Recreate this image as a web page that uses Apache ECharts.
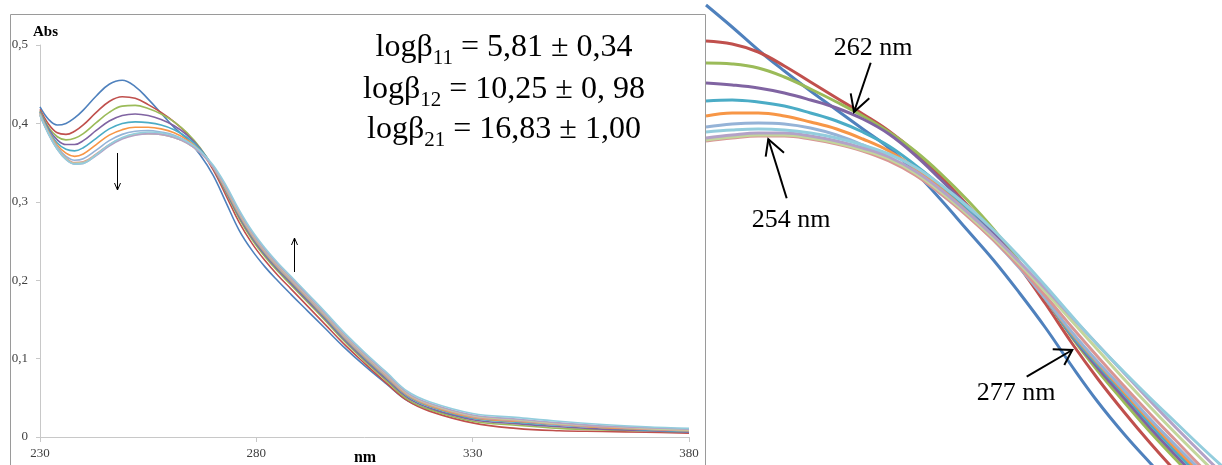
<!DOCTYPE html>
<html><head><meta charset="utf-8">
<script src="https://cdn.jsdelivr.net/npm/echarts@6/dist/echarts.min.js"></script>
<style>html,body{margin:0;padding:0;background:#fff}#c{width:1222px;height:465px}</style>
</head><body><div id="c"></div>
<script>
// ---- Left panel: full spectra (nm, Abs) ----
const wavelengths = [230,232,234,236,238,240,243,246,249,252,255,258,261,264,267,270,273,276,279,282,285,288,292,296,300,305,310,315,320,330,340,350,360,370,380];
const spec1  = [0.421,0.405,0.398,0.400,0.407,0.417,0.435,0.450,0.455,0.447,0.431,0.413,0.395,0.380,0.360,0.334,0.299,0.264,0.238,0.217,0.199,0.182,0.160,0.138,0.116,0.091,0.068,0.046,0.035,0.024,0.021,0.017,0.013,0.010,0.008];
const spec2  = [0.418,0.399,0.388,0.386,0.390,0.398,0.414,0.428,0.434,0.432,0.424,0.414,0.402,0.387,0.367,0.341,0.308,0.274,0.247,0.225,0.206,0.189,0.166,0.143,0.120,0.094,0.069,0.046,0.033,0.018,0.011,0.008,0.007,0.006,0.005];
const spec3  = [0.416,0.395,0.383,0.379,0.381,0.387,0.401,0.414,0.422,0.423,0.419,0.412,0.402,0.388,0.369,0.344,0.312,0.279,0.252,0.230,0.211,0.194,0.171,0.148,0.124,0.097,0.072,0.048,0.035,0.020,0.015,0.011,0.009,0.008,0.006];
const spec4  = [0.415,0.393,0.379,0.373,0.373,0.378,0.391,0.403,0.410,0.412,0.410,0.405,0.397,0.385,0.368,0.344,0.313,0.281,0.254,0.232,0.213,0.196,0.173,0.150,0.126,0.099,0.074,0.050,0.037,0.022,0.017,0.013,0.010,0.008,0.006];
const spec5  = [0.414,0.391,0.375,0.367,0.365,0.369,0.381,0.393,0.400,0.402,0.401,0.398,0.392,0.382,0.367,0.344,0.314,0.283,0.256,0.234,0.215,0.198,0.175,0.152,0.128,0.101,0.076,0.052,0.039,0.024,0.019,0.015,0.012,0.009,0.007];
const spec6  = [0.413,0.389,0.372,0.362,0.358,0.361,0.373,0.385,0.392,0.395,0.395,0.393,0.388,0.379,0.365,0.344,0.315,0.284,0.257,0.235,0.216,0.199,0.176,0.153,0.129,0.102,0.077,0.053,0.040,0.025,0.020,0.016,0.012,0.010,0.008];
const spec7  = [0.412,0.388,0.370,0.358,0.353,0.355,0.366,0.378,0.386,0.390,0.391,0.389,0.385,0.377,0.364,0.344,0.316,0.285,0.258,0.236,0.217,0.200,0.177,0.154,0.130,0.103,0.078,0.054,0.041,0.026,0.021,0.016,0.013,0.011,0.009];
const spec8  = [0.411,0.387,0.368,0.356,0.350,0.351,0.361,0.373,0.381,0.386,0.387,0.386,0.382,0.375,0.363,0.344,0.317,0.286,0.259,0.237,0.218,0.201,0.178,0.155,0.131,0.104,0.079,0.054,0.041,0.026,0.021,0.016,0.013,0.010,0.008];
const spec9  = [0.411,0.387,0.368,0.355,0.349,0.350,0.360,0.372,0.381,0.386,0.387,0.386,0.382,0.375,0.363,0.345,0.318,0.287,0.260,0.238,0.219,0.202,0.179,0.156,0.132,0.105,0.080,0.055,0.042,0.027,0.022,0.017,0.014,0.011,0.009];
const spec10 = [0.410,0.386,0.367,0.354,0.348,0.349,0.359,0.371,0.380,0.385,0.387,0.386,0.382,0.375,0.363,0.345,0.319,0.288,0.261,0.239,0.220,0.203,0.180,0.157,0.133,0.106,0.081,0.056,0.043,0.028,0.023,0.018,0.014,0.012,0.010];
const spec11 = [0.410,0.386,0.367,0.354,0.348,0.349,0.360,0.373,0.382,0.387,0.389,0.388,0.384,0.377,0.365,0.347,0.321,0.290,0.263,0.241,0.222,0.205,0.182,0.159,0.135,0.108,0.083,0.058,0.045,0.030,0.025,0.020,0.016,0.013,0.011];

// ---- Right panel: enlarged view of 249-289 nm ----
const zoomWavelengths = [249,251,253,255,257,259,261,263,265,267,269,271,273,275,277,279,281,283,285,287,289];
const zoom1  = [0.4555,0.4445,0.433,0.4225,0.4125,0.403,0.3935,0.384,0.372,0.358,0.343,0.328,0.3115,0.294,0.275,0.257,0.241,0.2265,0.2125,0.1995,0.187];
const zoom2  = [0.4375,0.436,0.432,0.425,0.417,0.409,0.401,0.3925,0.382,0.3695,0.3555,0.341,0.3245,0.306,0.2865,0.2685,0.252,0.2365,0.222,0.2085,0.1955];
const zoom3  = [0.4265,0.426,0.424,0.4195,0.4135,0.407,0.400,0.392,0.3825,0.371,0.358,0.3435,0.327,0.3085,0.2895,0.2725,0.257,0.242,0.228,0.2145,0.2015];
const zoom4  = [0.4165,0.4155,0.414,0.4115,0.408,0.404,0.3985,0.391,0.3805,0.368,0.355,0.3415,0.326,0.3085,0.290,0.274,0.259,0.244,0.230,0.2165,0.2035];
const zoom5  = [0.4075,0.408,0.407,0.405,0.4015,0.3975,0.392,0.385,0.3755,0.365,0.353,0.340,0.3255,0.3085,0.2905,0.2755,0.261,0.246,0.232,0.2185,0.2055];
const zoom6  = [0.400,0.4015,0.4015,0.400,0.397,0.3935,0.3885,0.3825,0.374,0.3635,0.352,0.339,0.325,0.3085,0.2915,0.2765,0.262,0.2475,0.2335,0.2205,0.2075];
const zoom7  = [0.3945,0.396,0.3965,0.396,0.394,0.3905,0.3855,0.3795,0.371,0.361,0.3505,0.338,0.324,0.3085,0.292,0.277,0.263,0.2485,0.235,0.222,0.209];
const zoom8  = [0.3875,0.389,0.390,0.390,0.3885,0.386,0.3825,0.3775,0.3705,0.361,0.350,0.338,0.3245,0.310,0.2945,0.2795,0.265,0.251,0.2375,0.224,0.211];
const zoom9  = [0.388,0.3895,0.3905,0.3905,0.389,0.3865,0.383,0.3785,0.3715,0.362,0.351,0.339,0.326,0.312,0.2975,0.283,0.2685,0.2545,0.241,0.228,0.215];
const zoom10 = [0.389,0.3905,0.3915,0.3915,0.390,0.3875,0.384,0.3795,0.3725,0.363,0.352,0.340,0.327,0.3135,0.2995,0.2855,0.2715,0.2575,0.244,0.231,0.218];
const zoom11 = [0.392,0.393,0.3935,0.393,0.3915,0.389,0.3855,0.381,0.3745,0.3655,0.355,0.343,0.3295,0.315,0.300,0.2855,0.272,0.259,0.2465,0.234,0.222];

const xTicks = [230, 280, 330, 380];
const yTicks = [0, 0.1, 0.2, 0.3, 0.4, 0.5];
const annotations = ['262 nm', '254 nm', '277 nm'];
const constants = [['11','5,81 ± 0,34'],['12','10,25 ± 0, 98'],['21','16,83 ± 1,00']];

const colors = ['#4F81BD','#C0504D','#9BBB59','#8064A2','#4BACC6','#F79646','#95B3D7','#D99694','#C3D69B','#B3A2C7','#93CDDD'];
const specs = [spec1,spec2,spec3,spec4,spec5,spec6,spec7,spec8,spec9,spec10,spec11];
const zooms = [zoom1,zoom2,zoom3,zoom4,zoom5,zoom6,zoom7,zoom8,zoom9,zoom10,zoom11];

const SERIF = '"Liberation Serif","Times New Roman",serif';
const series = [];
specs.forEach((arr, k) => series.push({
  type:'line', xAxisIndex:0, yAxisIndex:0, showSymbol:false, symbol:'none', smooth:0.4,
  lineStyle:{color:colors[k], width:1.6}, itemStyle:{color:colors[k]},
  data: wavelengths.map((w,i)=>[w, arr[i]])
}));
zooms.forEach((arr, k) => series.push({
  type:'line', xAxisIndex:1, yAxisIndex:1, showSymbol:false, symbol:'none', smooth:0.4, clip:true,
  lineStyle:{color:colors[k], width:3}, itemStyle:{color:colors[k]},
  data: zoomWavelengths.map((w,i)=>[w, arr[i]])
}));

const axisGray = '#c8c8c8';
const chart = echarts.init(document.getElementById('c'), null, {renderer:'canvas'});

function arrow(pts, head1, head2, w){
  return [
    {type:'polyline', shape:{points:pts}, style:{stroke:'#000', lineWidth:w, fill:null}, silent:true, z:50},
    {type:'polyline', shape:{points:[head1, pts[pts.length-1], head2]}, style:{stroke:'#000', lineWidth:w, fill:null}, silent:true, z:50}
  ];
}
const rich = {
  m:{fontFamily:SERIF, fontSize:32, lineHeight:42, color:'#000'},
  s:{fontFamily:SERIF, fontSize:21, lineHeight:25, color:'#000', verticalAlign:'bottom'}
};
const formulaY = [48, 89.5, 130];
const formulas = constants.map((c, i) => ({
  type:'text', x:504, y:formulaY[i], z:60,
  style:{text:'{m|logβ}{s|'+c[0]+'}{m| = '+c[1]+'}', rich:rich, align:'center', verticalAlign:'middle', textAlign:'center', textVerticalAlign:'middle'}
}));

const graphic = [
  {type:'rect', shape:{x:10.5, y:14.5, width:695, height:480}, style:{fill:null, stroke:'#9a9a9a', lineWidth:1}, silent:true, z:-10},
  {type:'text', x:33, y:32, style:{text:'Abs', font:'bold 15px '+SERIF, fill:'#000', verticalAlign:'middle', textVerticalAlign:'middle'}},
  {type:'text', x:365, y:458, style:{text:'nm', font:'bold 16px '+SERIF, fill:'#000', align:'center', verticalAlign:'middle', textAlign:'center', textVerticalAlign:'middle'}},
  ...formulas,
  ...arrow([[117.5,153],[117.5,190]], [114.5,183], [120.5,183], 1),
  ...arrow([[294.5,272],[294.5,238]], [291.5,245], [297.5,245], 1),
  {type:'text', x:873, y:48, z:60, style:{text:annotations[0], font:'26px '+SERIF, fill:'#000', align:'center', verticalAlign:'middle', textAlign:'center', textVerticalAlign:'middle'}},
  ...arrow([[870.7,62.7],[854,112]], [850.7,93.3], [869.3,98.3], 2),
  {type:'text', x:791, y:220, z:60, style:{text:annotations[1], font:'26px '+SERIF, fill:'#000', align:'center', verticalAlign:'middle', textAlign:'center', textVerticalAlign:'middle'}},
  ...arrow([[786.7,198.3],[768.3,139.3]], [765.7,156.7], [784,152.7], 2),
  {type:'text', x:1016, y:393, z:60, style:{text:annotations[2], font:'26px '+SERIF, fill:'#000', align:'center', verticalAlign:'middle', textAlign:'center', textVerticalAlign:'middle'}},
  ...arrow([[1026.7,376.7],[1072.3,350]], [1052.7,349.3], [1064.3,365], 2)
];

chart.setOption({
  animation:false,
  backgroundColor:'#fff',
  grid:[
    {left:40, top:45, width:649, height:392, containLabel:false},
    {left:706, top:0, width:516, height:465, containLabel:false}
  ],
  xAxis:[
    {type:'value', gridIndex:0, min:xTicks[0], max:xTicks[xTicks.length-1], interval:50,
     axisLine:{show:true, onZero:false, lineStyle:{color:axisGray, width:1}},
     axisTick:{show:true, length:5, lineStyle:{color:axisGray}},
     axisLabel:{show:true, margin:10, fontFamily:SERIF, fontSize:13, color:'#404040'},
     splitLine:{show:false}},
    {type:'value', gridIndex:1, min:249, max:288.5, show:false, splitLine:{show:false}}
  ],
  yAxis:[
    {type:'value', gridIndex:0, min:yTicks[0], max:yTicks[yTicks.length-1], interval:0.1,
     axisLine:{show:true, lineStyle:{color:axisGray, width:1}},
     axisTick:{show:true, length:4, lineStyle:{color:axisGray}},
     axisLabel:{show:true, margin:12, fontFamily:SERIF, fontSize:13, color:'#404040',
       formatter:v => v === 0 ? '0' : v.toFixed(1).replace('.', ',')},
     splitLine:{show:false}},
    {type:'value', gridIndex:1, min:0.2255, max:0.458, show:false, splitLine:{show:false}}
  ],
  series: series,
  graphic: graphic
});
</script></body></html>
